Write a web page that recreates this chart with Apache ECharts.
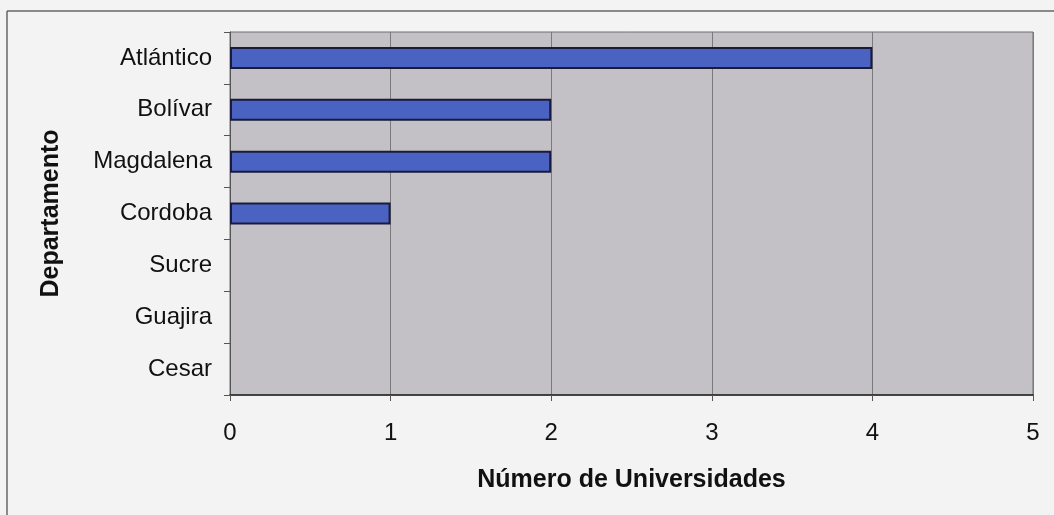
<!DOCTYPE html>
<html>
<head>
<meta charset="utf-8">
<script src="https://cdn.jsdelivr.net/npm/echarts@6/dist/echarts.min.js"></script>
<style>
  html, body { margin: 0; padding: 0; background: #f4f3f4; }
  #chart { width: 1054px; height: 515px; }
</style>
</head>
<body>
<div id="chart"></div>
<script>
// departamentos (top to bottom as drawn)
const departamentos = ['Atlántico', 'Bolívar', 'Magdalena', 'Cordoba', 'Sucre', 'Guajira', 'Cesar'];
const universidades = [4, 2, 2, 1, 0, 0, 0];
const xTicks = [0, 1, 2, 3, 4, 5];

const chart = echarts.init(document.getElementById('chart'));

// zero-length bars show no outline in the original
const barData = universidades.map(v => ({
  value: v,
  itemStyle: v === 0 ? { borderWidth: 0, opacity: 0 } : {}
}));

chart.setOption({
  backgroundColor: '#f4f3f4',
  animation: false,
  textStyle: { fontFamily: 'Liberation Sans, Arial, sans-serif' },
  graphic: [
    // outer chart frame (top + left edges visible in the scan)
    { type: 'line', shape: { x1: 7, y1: 11, x2: 1054, y2: 11 }, style: { stroke: '#666', lineWidth: 1.5 } },
    { type: 'line', shape: { x1: 7, y1: 11, x2: 7, y2: 515 }, style: { stroke: '#666', lineWidth: 1.5 } }
  ],
  grid: {
    left: 230, top: 32, width: 803, height: 363,
    show: true,
    backgroundColor: '#c4c1c6',
    borderColor: '#6e6e6e',
    borderWidth: 1
  },
  xAxis: {
    type: 'value',
    min: xTicks[0],
    max: xTicks[xTicks.length - 1],
    interval: 1,
    name: 'Número de Universidades',
    nameLocation: 'middle',
    nameGap: 73,
    nameTextStyle: { fontSize: 25, fontWeight: 'bold', color: '#111' },
    axisLine: { show: true, lineStyle: { color: '#222', width: 1.5 } },
    axisTick: { show: true, length: 6, lineStyle: { color: '#555' } },
    axisLabel: { fontSize: 24, color: '#111', margin: 26 },
    splitLine: { show: true, lineStyle: { color: '#7a7a7a', width: 1 } }
  },
  yAxis: {
    type: 'category',
    data: departamentos,
    inverse: true,
    name: 'Departamento',
    nameLocation: 'middle',
    nameGap: 166,
    nameRotate: 90,
    nameTextStyle: { fontSize: 25, fontWeight: 'bold', color: '#111' },
    axisLine: { show: true, lineStyle: { color: '#555', width: 1 } },
    axisTick: { show: true, length: 6, lineStyle: { color: '#555' } },
    axisLabel: { fontSize: 24, color: '#111', margin: 18 },
    splitLine: { show: false }
  },
  series: [{
    type: 'bar',
    data: barData,
    barWidth: 22,
    itemStyle: { color: '#4a63c2', borderColor: '#1a1a3a', borderWidth: 2 }
  }]
});
</script>
</body>
</html>
